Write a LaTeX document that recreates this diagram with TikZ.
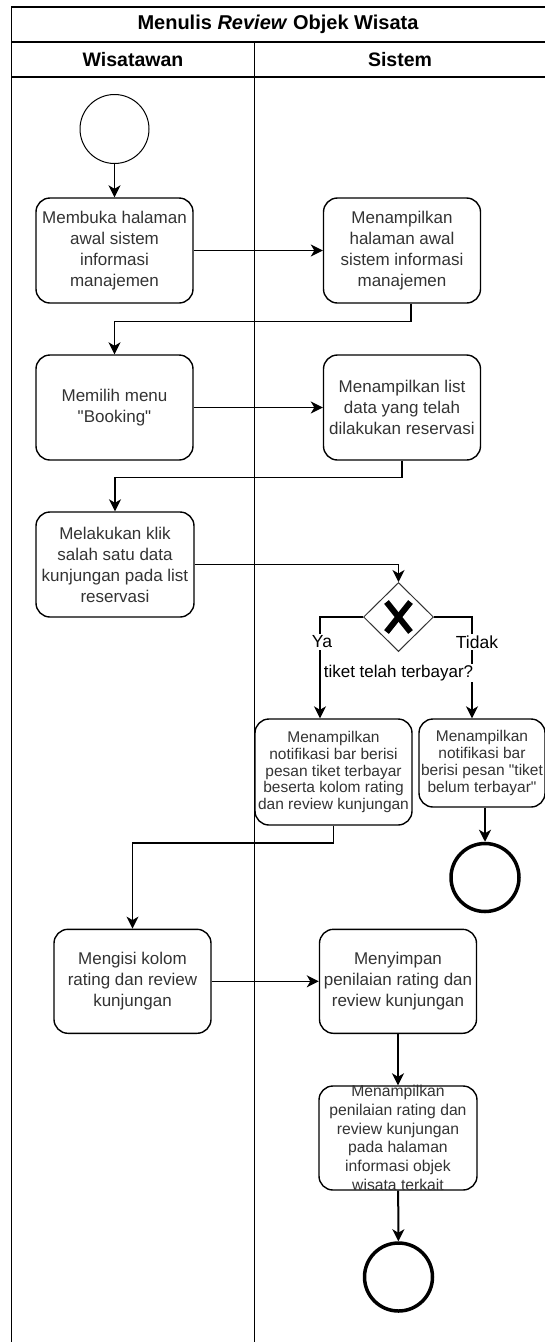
\documentclass[tikz,border=0pt]{standalone}
\usepackage{fontspec}
\setmainfont{Liberation Sans}
\usetikzlibrary{shapes.geometric,arrows.meta}
\newcommand{\dq}{\textquotedbl}
\begin{document}
\begin{tikzpicture}[x=1pt,y=-1pt,
  lane/.style={draw=black, line width=1.5pt},
  act/.style={draw=black, line width=1.4pt, rounded corners=14pt,
    minimum width=157pt, minimum height=105pt, inner sep=1pt,
    align=center, text=black!80, font=\fontsize{17}{21}\selectfont},
  smalltext/.style={font=\fontsize{15.5}{16.7}\selectfont},
  acttext/.style={inner sep=0pt, align=center, text=black!80,
    font=\fontsize{15.7}{18.7}\selectfont},
  flow/.style={draw=black, line width=1.4pt,
    -{Stealth[length=12pt,width=12pt,inset=3.5pt]}},
  thickflow/.style={flow, line width=2pt},
  startev/.style={circle, draw=black, line width=1pt, minimum size=69pt, inner sep=0pt},
  endev/.style={circle, draw=black, line width=3.5pt, minimum size=68pt, inner sep=0pt},
  gateway/.style={diamond, draw=black!80, line width=1pt, minimum width=70pt,
    minimum height=69pt, inner sep=0pt},
  xmark/.style={draw=black, line width=6pt},
  guard/.style={fill=white, inner sep=1.5pt, font=\fontsize{17.5}{20}\selectfont},
  head/.style={font=\fontsize{19.5}{23}\bfseries\selectfont}
]
\useasboundingbox (0,0) rectangle (545,1342);
\clip (0,0) rectangle (545,1342);

% pool frame, title row, lane headers and lane divider
\draw[lane] (11.5,1360) |- (560,7);
\draw[lane] (11.5,42) -- (560,42);
\draw[lane] (11.5,77) -- (560,77);
\draw[lane] (254.5,42) -- (254.5,1360);
\node[font=\fontsize{20}{24}\bfseries\selectfont] (title) at (278,24.5)
  {Menulis \textit{Review} Objek Wisata};
\node[head] (lane1) at (133,59.5) {Wisatawan};
\node[head] (lane2) at (400,59.5) {Sistem};

% events, activities and the gateway
\node[startev] (start) at (114.5,129) {};
\node[act] (b1) at (114.5,250.5) {Membuka halaman\\awal sistem\\informasi\\manajemen};
\node[act] (b2) at (402,250.5) {Menampilkan\\halaman awal\\sistem informasi\\manajemen};
\node[act] (b3) at (114.5,407.5) {Memilih menu\\\dq Booking\dq};
\node[act] (b4) at (402,407.5) {Menampilkan list\\data yang telah\\dilakukan reservasi};
\node[act, minimum width=158pt] (b5) at (115,564.5)
  {Melakukan klik\\salah satu data\\kunjungan pada list\\reservasi};
\node[gateway] (gw) at (398.5,617) {};
\draw[xmark] ([shift={(-12,-15)}]gw.center) -- ([shift={(12,15)}]gw.center);
\draw[xmark] ([shift={(-12,15)}]gw.center) -- ([shift={(12,-15)}]gw.center);
\node[act, smalltext, minimum height=106pt] (b6) at (333.5,772)
  {Menampilkan\\notifikasi bar berisi\\pesan tiket terbayar\\beserta kolom rating\\dan review kunjungan};
\node[act, smalltext, minimum width=126pt, minimum height=88pt] (b7) at (482,763)
  {Menampilkan\\notifikasi bar\\berisi pesan \dq tiket\\belum terbayar\dq};
\node[endev] (end1) at (485,877.5) {};
\node[act, minimum height=104pt] (b8) at (132.5,981.3) {Mengisi kolom\\rating dan review\\kunjungan};
\node[act, minimum height=104pt] (b9) at (398,981.3) {Menyimpan\\penilaian rating dan\\review kunjungan};
\node[act, minimum width=158pt, minimum height=104pt] (b10) at (398,1138) {};
\node[acttext] (b10txt) at (b10.center)
  {Menampilkan\\penilaian rating dan\\review kunjungan\\pada halaman\\informasi objek\\wisata terkait};
\node[endev] (end2) at (398.5,1277) {};

% sequence flows
\draw[flow] (start) -- (b1);
\draw[flow] (b1) -- (b2);
\draw[flow] ([xshift=9pt]b2.south) -- ++(0,18) -| (b3.north);
\draw[flow] (b3) -- (b4);
\draw[flow] (b4.south) -- ++(0,17) -| (b5.north);
\draw[flow] (b5.east) -| (gw.north);
\draw[flow] (gw.west) -| ([xshift=-13.5pt]b6.north);
\draw[flow] (gw.east) -| ([xshift=-10pt]b7.north);
\draw[thickflow] ([xshift=3pt]b7.south) -- (end1.north);
\draw[flow] (b6.south) -- ++(0,17.3) -| (b8.north);
\draw[flow] (b8) -- (b9);
\draw[thickflow] (b9) -- (b10);
\draw[thickflow] (b10) -- (end2);

% gateway labels
\node[guard] (ya) at (322,642) {Ya};
\node[guard] (tidak) at (477,642) {Tidak};
\node[guard, inner sep=1pt, font=\fontsize{17}{20}\selectfont] (cond) at (398.5,673) {tiket telah terbayar?};
\end{tikzpicture}
\end{document}
